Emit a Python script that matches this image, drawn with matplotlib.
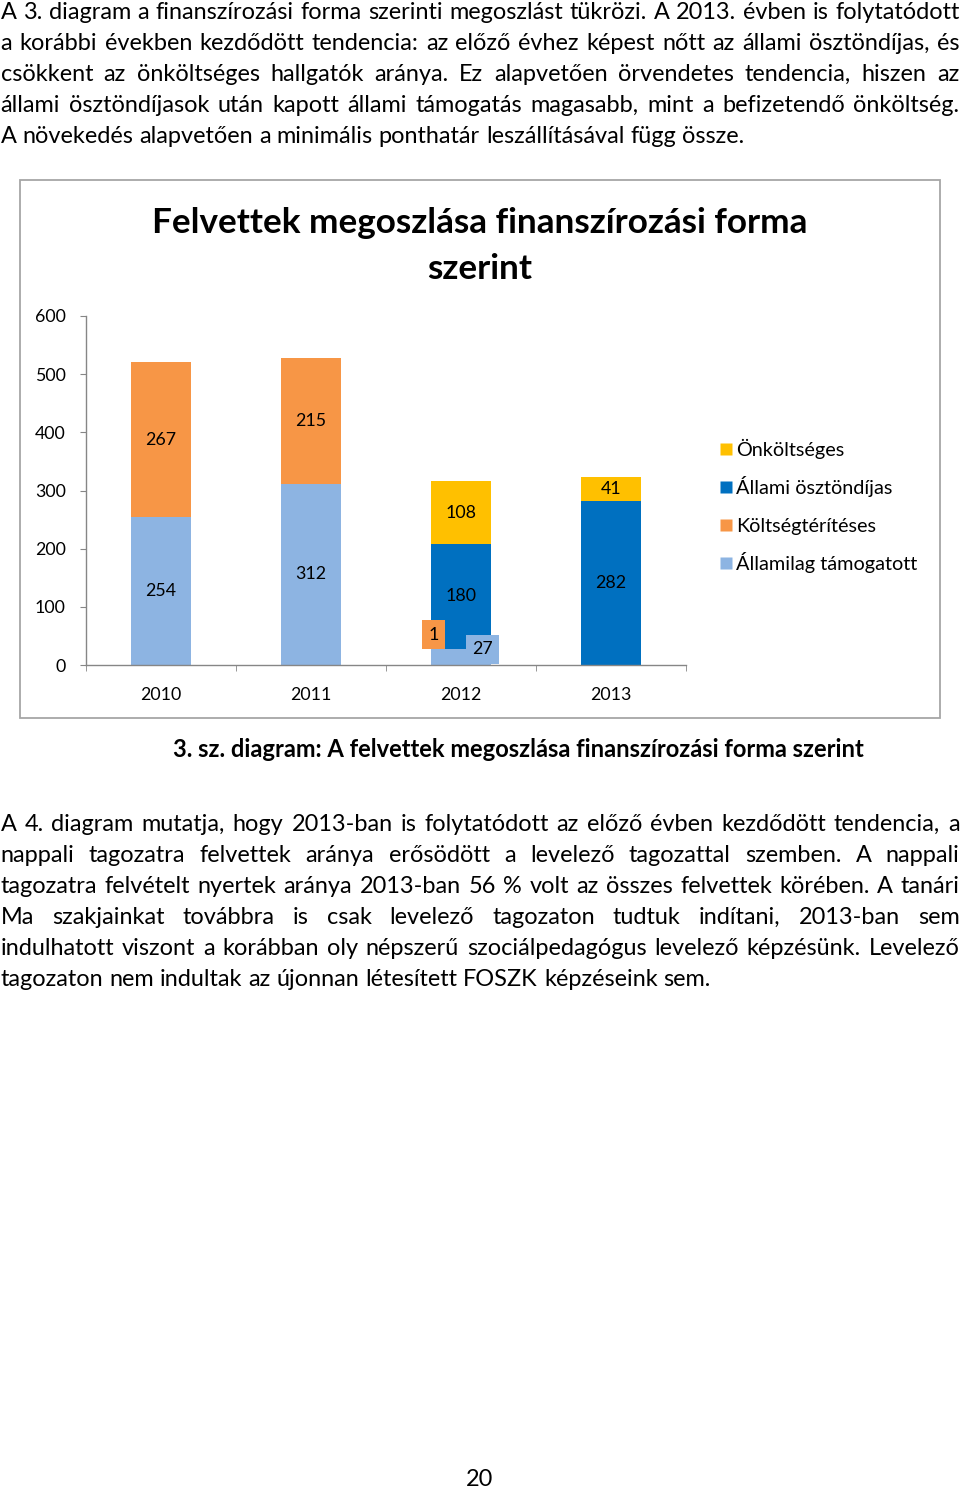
import matplotlib
matplotlib.use('Agg')
import matplotlib.pyplot as plt
from matplotlib.font_manager import FontProperties
from matplotlib.patches import Rectangle
from matplotlib.lines import Line2D
from matplotlib.legend_handler import HandlerLine2D
import numpy as np

# ---------------- data ----------------
years = ['2010', '2011', '2012', '2013']
allamilag_tamogatott = [254, 312, 27, 0]
koltsegteriteses = [267, 215, 1, 0]
allami_osztondijas = [0, 0, 180, 282]
onkoltseges = [0, 0, 108, 41]
series_names = ['Államilag támogatott', 'Költségtérítéses',
                'Állami ösztöndíjas', 'Önköltséges']
y_ticks = [0, 100, 200, 300, 400, 500, 600]

chart_title = ['Felvettek megoszlása finanszírozási forma', 'szerint']
caption = '3. sz. diagram: A felvettek megoszlása finanszírozási forma szerint'
para1 = [
    'A 3. diagram a finanszírozási forma szerinti megoszlást tükrözi. A 2013. évben is folytatódott',
    'a korábbi években kezdődött tendencia: az előző évhez képest nőtt az állami ösztöndíjas, és',
    'csökkent az önköltséges hallgatók aránya. Ez alapvetően örvendetes tendencia, hiszen az',
    'állami ösztöndíjasok után kapott állami támogatás magasabb, mint a befizetendő önköltség.',
    'A növekedés alapvetően a minimális ponthatár leszállításával függ össze.',
]
para2 = [
    'A 4. diagram mutatja, hogy 2013-ban is folytatódott az előző évben kezdődött tendencia, a',
    'nappali tagozatra felvettek aránya erősödött a levelező tagozattal szemben. A nappali',
    'tagozatra felvételt nyertek aránya 2013-ban 56 % volt az összes felvettek körében. A tanári',
    'Ma szakjainkat továbbra is csak levelező tagozaton tudtuk indítani, 2013-ban sem',
    'indulhatott viszont a korábban oly népszerű szociálpedagógus levelező képzésünk. Levelező',
    'tagozaton nem indultak az újonnan létesített FOSZK képzéseink sem.',
]
page_number = '20'

# ---------------- setup ----------------
FW, FH = 960, 1489
fig = plt.figure(figsize=(FW / 100, FH / 100), dpi=100)
fig.patch.set_facecolor('white')
renderer = fig.canvas.get_renderer()
FAMILY = ['Lato', 'DejaVu Sans']


def fp(size, weight='normal'):
    return FontProperties(family=FAMILY, size=size, weight=weight)


def width_px(s, prop):
    w, h, d = renderer.get_text_width_height_descent(s, prop, ismath=False)
    return w


def fit_size(s, target, weight='normal', base=20.0):
    return base * target / width_px(s, fp(base, weight))


def fx(px):
    return px / FW


def fy(py):
    return 1 - py / FH


# ---------------- body text ----------------
body_size = 0.5 * (fit_size(para1[-1], 750) + fit_size(para2[-1], 708))
body_fp = fp(body_size)
X0, X1 = 0.5, 959.5


def draw_paragraph(lines, baselines):
    for i, (line, yb) in enumerate(zip(lines, baselines)):
        words = line.split(' ')
        widths = [width_px(w, body_fp) for w in words]
        last = (i == len(lines) - 1)
        if not last and len(words) > 1:
            gap = (X1 - X0 - sum(widths)) / (len(words) - 1)
        else:
            gap = width_px('a a', body_fp) - 2 * width_px('a', body_fp)
        x = X0
        for w, wd in zip(words, widths):
            fig.text(fx(x), fy(yb), w, fontproperties=body_fp,
                     ha='left', va='baseline', color='black')
            x += wd + gap


draw_paragraph(para1, [19 + 31 * k for k in range(len(para1))])
draw_paragraph(para2, [831 + 31 * k for k in range(len(para2))])

# ---------------- chart frame ----------------
fig.add_artist(Rectangle((fx(20), fy(718)), fx(940) - fx(20), fy(180) - fy(718),
                         transform=fig.transFigure, fill=False,
                         edgecolor='#A6A6A6', linewidth=1.3))

# title
title_size = fit_size(chart_title[0], 656, weight='bold')
fig.text(fx(480), fy(233), chart_title[0], fontproperties=fp(title_size, 'bold'),
         ha='center', va='baseline')
fig.text(fx(480), fy(279), chart_title[1], fontproperties=fp(title_size, 'bold'),
         ha='center', va='baseline')

# ---------------- axes ----------------
ax = fig.add_axes([fx(86), fy(665), fx(686) - fx(86), fy(316) - fy(665)])
ax.set_xlim(-0.5, 3.5)
ax.set_ylim(0, 600)
ax.set_facecolor('none')

colors = ['#8DB4E2', '#F79646', '#0070C0', '#FFC000']
data = [allamilag_tamogatott, koltsegteriteses, allami_osztondijas, onkoltseges]
x = np.arange(len(years))
label_size = fit_size('600', 31)

bottom = np.zeros(len(years))
containers = []
for vals, name, c in zip(data, series_names, colors):
    cont = ax.bar(x, vals, 0.4, bottom=bottom, color=c, label=name, linewidth=0)
    containers.append(cont)
    bottom = bottom + np.array(vals)

# offsets (points) for labels of segments too thin to hold their label
outside = {(1, 2): (-19.8, 10.4), (0, 2): (15.5, 5.8)}
for si, (cont, vals) in enumerate(zip(containers, data)):
    labels = []
    for ci, v in enumerate(vals):
        if v <= 0 or (si, ci) in outside:
            labels.append('')
        else:
            labels.append(str(v))
    ax.bar_label(cont, labels=labels, label_type='center',
                 fontfamily=FAMILY, fontsize=label_size, color='black')
    for ci, v in enumerate(vals):
        if (si, ci) in outside and v > 0:
            rect = cont.patches[ci]
            cx = rect.get_x() + rect.get_width() / 2
            cy = rect.get_y() + rect.get_height() / 2
            ax.annotate(str(v), xy=(cx, cy), xytext=outside[(si, ci)],
                        textcoords='offset points', ha='center', va='center',
                        fontfamily=FAMILY, fontsize=label_size, color='black',
                        bbox=dict(boxstyle='square,pad=0.36', fc=colors[si], ec='none'),
                        zorder=5)

for s in ['top', 'right']:
    ax.spines[s].set_visible(False)
for s in ['left', 'bottom']:
    ax.spines[s].set_color('#868686')
    ax.spines[s].set_linewidth(1.0)

ax.set_yticks(y_ticks)
ax.set_yticklabels([str(t) for t in y_ticks], fontfamily=FAMILY, fontsize=label_size)
ax.tick_params(axis='y', direction='out', length=4, color='#868686', pad=10.5)

ax.set_xticks(x)
ax.set_xticklabels(years, fontfamily=FAMILY, fontsize=label_size)
ax.set_xticks(np.arange(-0.5, len(years), 1.0), minor=True)
ax.tick_params(axis='x', which='major', length=0, pad=15.5)
ax.tick_params(axis='x', which='minor', direction='out', length=4, color='#868686')


# legend
class LoweredMarker(HandlerLine2D):
    def create_artists(self, legend, orig_handle, xdescent, ydescent,
                       width, height, fontsize, trans):
        arts = super().create_artists(legend, orig_handle, xdescent, ydescent,
                                      width, height, fontsize, trans)
        for a in arts:
            a.set_ydata(np.asarray(a.get_ydata(), dtype=float) - 0.26 * fontsize)
        return arts


legend_size = fit_size('Államilag támogatott', 181)
lg_px = legend_size * 100 / 72
handles = [Line2D([], [], marker='s', linestyle='none', markersize=8,
                  markerfacecolor=c, markeredgecolor='none', label=n)
           for n, c in zip(series_names, colors)]
HH = 2.5
row_h = 0.65 * HH + 0.245
fig.legend(handles=handles[::-1], loc='upper left',
           bbox_to_anchor=(fx(719), fy(450 - (0.325 * HH + 0.1225) * lg_px)),
           frameon=False, prop=fp(legend_size), handlelength=0.75, handleheight=HH,
           handletextpad=0.12, labelspacing=38 / lg_px - row_h, borderpad=0,
           borderaxespad=0, handler_map={Line2D: LoweredMarker()})

# caption
cap_size = fit_size(caption, 694, weight='bold')
fig.text(fx(518), fy(757), caption, fontproperties=fp(cap_size, 'bold'),
         ha='center', va='baseline')

# page number
fig.text(fx(480), fy(1486), page_number, fontproperties=body_fp,
         ha='center', va='baseline')

fig.savefig('out.png', dpi=100, facecolor='white')
